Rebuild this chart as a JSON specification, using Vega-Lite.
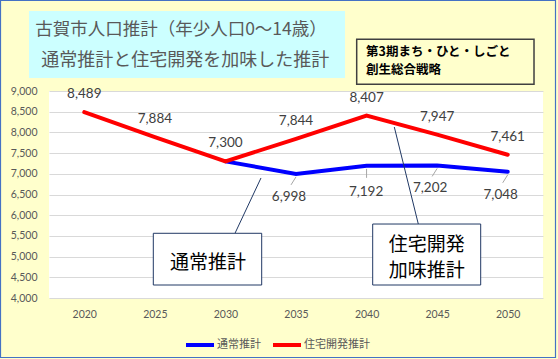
{
  "$schema": "https://vega.github.io/schema/vega-lite/v6.json",
  "width": 494,
  "height": 207,
  "autosize": "none",
  "padding": {"left": 49, "top": 91, "right": 15, "bottom": 61},
  "background": "#FFFFCC",
  "config": {
    "view": {"fill": "white", "stroke": null},
    "font": "Lato"
  },
  "datasets": {
    "pop": [
      {"year": 2030, "value": 7300, "series": "通常推計"},
      {"year": 2035, "value": 6998, "series": "通常推計"},
      {"year": 2040, "value": 7192, "series": "通常推計"},
      {"year": 2045, "value": 7202, "series": "通常推計"},
      {"year": 2050, "value": 7048, "series": "通常推計"},
      {"year": 2020, "value": 8489, "series": "住宅開発推計"},
      {"year": 2025, "value": 7884, "series": "住宅開発推計"},
      {"year": 2030, "value": 7300, "series": "住宅開発推計"},
      {"year": 2035, "value": 7844, "series": "住宅開発推計"},
      {"year": 2040, "value": 8407, "series": "住宅開発推計"},
      {"year": 2045, "value": 7947, "series": "住宅開発推計"},
      {"year": 2050, "value": 7461, "series": "住宅開発推計"}
    ]
  },
  "data": {"name": "pop"},
  "layer": [
    {
      "mark": {"type": "line", "strokeWidth": 4, "strokeCap": "round"},
      "encoding": {
        "x": {
          "field": "year", "type": "quantitative",
          "scale": {"domain": [2017.5, 2052.5], "nice": false, "zero": false},
          "axis": {"title": null, "values": [2020, 2025, 2030, 2035, 2040, 2045, 2050], "tickCount": 7, "labelExpr": "'' + datum.value", "labelOverlap": false, "grid": false, "ticks": false, "domain": false, "labelPadding": 11, "labelFontSize": 10.5, "labelColor": "#595959", "labelFont": "Lato"}
        },
        "y": {
          "field": "value", "type": "quantitative",
          "scale": {"domain": [4000, 9000], "nice": false, "zero": false},
          "axis": {"title": null, "values": [4000, 4500, 5000, 5500, 6000, 6500, 7000, 7500, 8000, 8500, 9000], "tickCount": 11, "labelExpr": "format(datum.value, ',')", "labelOverlap": false, "grid": true, "gridColor": "#D9D9D9", "gridWidth": 1, "ticks": false, "domain": false, "labelPadding": 12, "labelFontSize": 10.5, "labelColor": "#595959", "labelFont": "Lato"}
        },
        "color": {
          "field": "series", "type": "nominal",
          "scale": {"domain": ["通常推計", "住宅開発推計"], "range": ["#0000FF", "#FF0000"]},
          "legend": {"title": null, "orient": "none", "legendX": 135, "legendY": 238, "direction": "horizontal", "symbolType": "stroke", "symbolSize": 784, "symbolStrokeWidth": 4, "labelFont": "Noto Sans CJK JP", "labelFontSize": 11, "labelColor": "#595959", "labelOffset": 1, "columnPadding": 4, "padding": 0}
        },
        "order": {"field": "year", "type": "quantitative"}
      }
    },
    {
      "data": {"values": [{}]},
      "mark": {"type": "rect", "fill": null, "stroke": "#4472C4", "strokeWidth": 1.2},
      "encoding": {
        "x": {"datum": 2014.064, "type": "quantitative"},
        "x2": {"datum": 2053.386},
        "y": {"datum": 11186, "type": "quantitative"},
        "y2": {"datum": 2563}
      }
    },
    {
      "data": {"values": [{}]},
      "mark": {"type": "rect", "fill": "#CCFFFF"},
      "encoding": {
        "x": {"datum": 2016.083, "type": "quantitative"},
        "x2": {"datum": 2038.472},
        "y": {"datum": 10932, "type": "quantitative"},
        "y2": {"datum": 9314}
      }
    },
    {
      "data": {"values": [{}]},
      "mark": {"type": "text", "text": "古賀市人口推計（年少人口0〜14歳）", "font": "Noto Sans CJK JP", "fontSize": 17.5, "color": "#595959", "align": "center", "baseline": "middle"},
      "encoding": {
        "x": {"datum": 2026.85, "type": "quantitative"},
        "y": {"datum": 10473, "type": "quantitative"}
      }
    },
    {
      "data": {"values": [{}]},
      "mark": {"type": "text", "text": "通常推計と住宅開発を加味した推計", "font": "Noto Sans CJK JP", "fontSize": 18, "color": "#595959", "align": "center", "baseline": "middle"},
      "encoding": {
        "x": {"datum": 2027.15, "type": "quantitative"},
        "y": {"datum": 9725, "type": "quantitative"}
      }
    },
    {
      "data": {"values": [{}]},
      "mark": {"type": "rect", "fill": "#FFFFCC", "stroke": "#404040", "strokeWidth": 1.5},
      "encoding": {
        "x": {"datum": 2039.30, "type": "quantitative"},
        "x2": {"datum": 2051.863},
        "y": {"datum": 10249, "type": "quantitative"},
        "y2": {"datum": 9162}
      }
    },
    {
      "data": {"values": [{}]},
      "mark": {"type": "text", "text": "第3期まち・ひと・しごと", "font": "Noto Sans CJK JP", "fontSize": 12.5, "fontWeight": "bold", "color": "#000000", "align": "left", "baseline": "middle"},
      "encoding": {
        "x": {"datum": 2039.96, "type": "quantitative"},
        "y": {"datum": 9935, "type": "quantitative"}
      }
    },
    {
      "data": {"values": [{}]},
      "mark": {"type": "text", "text": "創生総合戦略", "font": "Noto Sans CJK JP", "fontSize": 12.5, "fontWeight": "bold", "color": "#000000", "align": "left", "baseline": "middle"},
      "encoding": {
        "x": {"datum": 2039.96, "type": "quantitative"},
        "y": {"datum": 9514, "type": "quantitative"}
      }
    },
    {
      "transform": [{"filter": "datum.series === '住宅開発推計'"}],
      "mark": {"type": "text", "font": "Lato", "fontSize": 13.5, "color": "#404040", "align": "center", "baseline": "middle", "dy": -18},
      "encoding": {
        "x": {"field": "year", "type": "quantitative"},
        "y": {"field": "value", "type": "quantitative"},
        "text": {"field": "value", "type": "quantitative", "format": ","}
      }
    },
    {
      "transform": [{"filter": "datum.series === '通常推計' && datum.year !== 2030 && datum.year !== 2040"}],
      "mark": {"type": "rule", "stroke": "#A6A6A6", "strokeWidth": 1, "yOffset": 3, "x2Offset": -5, "y2Offset": 11},
      "encoding": {
        "x": {"field": "year", "type": "quantitative"},
        "y": {"field": "value", "type": "quantitative"},
        "x2": {"field": "year"},
        "y2": {"field": "value"}
      }
    },
    {
      "transform": [{"filter": "datum.series === '通常推計' && datum.year === 2040"}],
      "mark": {"type": "rule", "stroke": "#A6A6A6", "strokeWidth": 1, "yOffset": 3, "y2Offset": 12},
      "encoding": {
        "x": {"field": "year", "type": "quantitative"},
        "y": {"field": "value", "type": "quantitative"},
        "x2": {"field": "year"},
        "y2": {"field": "value"}
      }
    },
    {
      "transform": [{"filter": "datum.series === '通常推計' && datum.year !== 2030 && datum.year !== 2040"}],
      "mark": {"type": "text", "font": "Lato", "fontSize": 13.5, "color": "#404040", "align": "center", "baseline": "middle", "dx": -7, "dy": 23},
      "encoding": {
        "x": {"field": "year", "type": "quantitative"},
        "y": {"field": "value", "type": "quantitative"},
        "text": {"field": "value", "type": "quantitative", "format": ","}
      }
    },
    {
      "transform": [{"filter": "datum.series === '通常推計' && datum.year === 2040"}],
      "mark": {"type": "text", "font": "Lato", "fontSize": 13.5, "color": "#404040", "align": "center", "baseline": "middle", "dx": -0.5, "dy": 26},
      "encoding": {
        "x": {"field": "year", "type": "quantitative"},
        "y": {"field": "value", "type": "quantitative"},
        "text": {"field": "value", "type": "quantitative", "format": ","}
      }
    },
    {
      "data": {"values": [{}]},
      "mark": {"type": "rule", "stroke": "#203864", "strokeWidth": 1},
      "encoding": {
        "x": {"datum": 2030.678, "type": "quantitative"},
        "y": {"datum": 5563, "type": "quantitative"},
        "x2": {"datum": 2032.52},
        "y2": {"datum": 6899}
      }
    },
    {
      "data": {"values": [{}]},
      "mark": {"type": "rect", "fill": "white", "stroke": "#203864", "strokeWidth": 1},
      "encoding": {
        "x": {"datum": 2024.890, "type": "quantitative"},
        "x2": {"datum": 2032.570},
        "y": {"datum": 5563, "type": "quantitative"},
        "y2": {"datum": 4314}
      }
    },
    {
      "data": {"values": [{}]},
      "mark": {"type": "text", "text": "通常推計", "font": "Noto Sans CJK JP", "fontSize": 19, "color": "#000000", "align": "center", "baseline": "middle"},
      "encoding": {
        "x": {"datum": 2028.765, "type": "quantitative"},
        "y": {"datum": 4845, "type": "quantitative"}
      }
    },
    {
      "data": {"values": [{}]},
      "mark": {"type": "rule", "stroke": "#203864", "strokeWidth": 1},
      "encoding": {
        "x": {"datum": 2041.965, "type": "quantitative"},
        "y": {"datum": 8130, "type": "quantitative"},
        "x2": {"datum": 2043.665},
        "y2": {"datum": 5787}
      }
    },
    {
      "data": {"values": [{}]},
      "mark": {"type": "rect", "fill": "white", "stroke": "#203864", "strokeWidth": 1},
      "encoding": {
        "x": {"datum": 2040.434, "type": "quantitative"},
        "x2": {"datum": 2048.086},
        "y": {"datum": 5787, "type": "quantitative"},
        "y2": {"datum": 4314}
      }
    },
    {
      "data": {"values": [{}]},
      "mark": {"type": "text", "text": "住宅開発", "font": "Noto Sans CJK JP", "fontSize": 19, "color": "#000000", "align": "center", "baseline": "middle"},
      "encoding": {
        "x": {"datum": 2044.26, "type": "quantitative"},
        "y": {"datum": 5280, "type": "quantitative"}
      }
    },
    {
      "data": {"values": [{}]},
      "mark": {"type": "text", "text": "加味推計", "font": "Noto Sans CJK JP", "fontSize": 19, "color": "#000000", "align": "center", "baseline": "middle"},
      "encoding": {
        "x": {"datum": 2044.26, "type": "quantitative"},
        "y": {"datum": 4652, "type": "quantitative"}
      }
    }
  ]
}
